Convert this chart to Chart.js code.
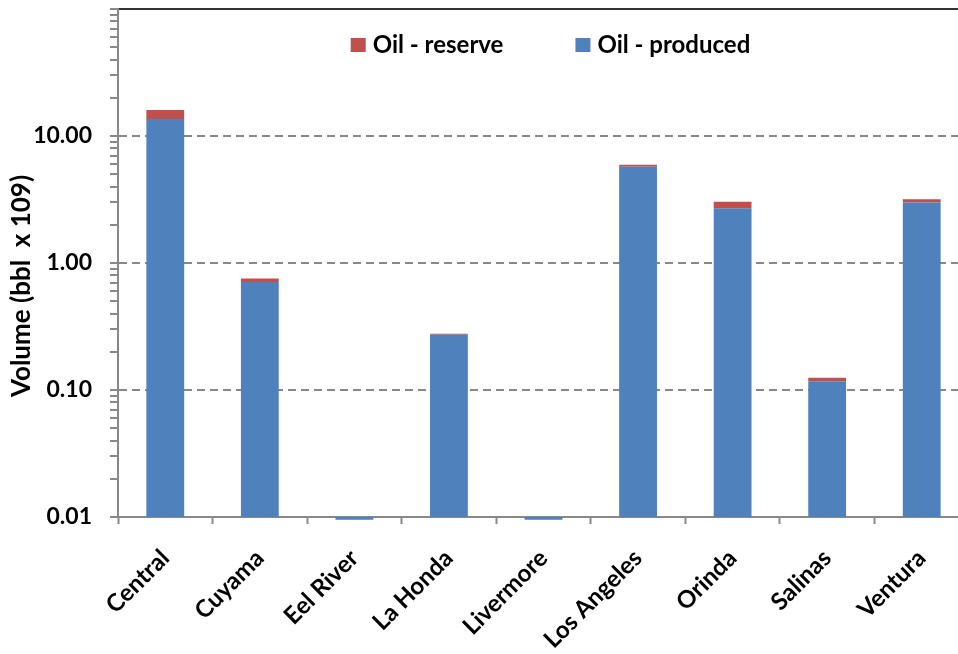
<!DOCTYPE html>
<html>
<head>
<meta charset="utf-8">
<script src="https://cdn.jsdelivr.net/npm/chart.js@4.4.1/dist/chart.umd.min.js"></script>
<style>
  html, body { margin: 0; padding: 0; background: #fff; overflow: hidden; }
  #wrap { width: 980px; height: 654px; }
</style>
</head>
<body>
<div id="wrap"><canvas id="myChart" width="980" height="654"></canvas></div>
<script>
// basins and volumes (bbl x 10^9)
const basins = ['Central', 'Cuyama', 'Eel River', 'La Honda', 'Livermore', 'Los Angeles', 'Orinda', 'Salinas', 'Ventura'];
const oilProduced = [13.6, 0.71, 0.0095, 0.272, 0.0095, 5.72, 2.7, 0.117, 3.0];
const oilReserve = [2.4, 0.045, 0, 0.005, 0, 0.22, 0.34, 0.008, 0.18];

// labelled decades on the log axis, minor ticks at 2..9 of each
const yTickLabels = [0.01, 0.1, 1, 10];
const yMinorSteps = [1, 2, 3, 4, 5, 6, 7, 8, 9];
const yMin = 0.01, yMax = 100;
const yTitle = 'Volume (bbl  x 109)';

const BLUE = '#4F81BD';
const RED = '#C0504D';
const FONT = 'Lato';

// legend sits inside the plot near the top and the axis title sits a bit low,
// so both are drawn by hand
const extras = {
  id: 'extras',
  afterDraw(chart) {
    const { ctx, chartArea } = chart;
    const items = [chart.data.datasets[1], chart.data.datasets[0]];
    ctx.save();
    ctx.font = 'bold 24px ' + FONT;
    const box = 15, gap = 7, spacing = 72;
    const widths = items.map(d => box + gap + ctx.measureText(d.label).width);
    const total = widths[0] + widths[1] + spacing;
    let x = (chartArea.left + chartArea.right) / 2 - total / 2 + 7;
    const y = 45;
    ctx.textBaseline = 'middle';
    ctx.textAlign = 'left';
    items.forEach((d, i) => {
      ctx.fillStyle = d.backgroundColor;
      ctx.fillRect(x, y - 7, box, 14);
      ctx.fillStyle = '#000';
      ctx.fillText(d.label, x + box + gap, y);
      x += widths[i] + spacing;
    });

    ctx.translate(22, 286);
    ctx.rotate(-Math.PI / 2);
    ctx.font = 'bold 26px ' + FONT;
    ctx.textAlign = 'center';
    ctx.fillText(yTitle, 0, 0);
    ctx.restore();
  }
};

function draw() {
  const ctx = document.getElementById('myChart').getContext('2d');
  new Chart(ctx, {
    type: 'bar',
    data: {
      labels: basins,
      datasets: [
        {
          label: 'Oil - produced',
          data: oilProduced,
          backgroundColor: BLUE,
          barPercentage: 0.4,
          categoryPercentage: 1.0,
          clip: false,
        },
        {
          label: 'Oil - reserve',
          data: oilReserve,
          backgroundColor: RED,
          barPercentage: 0.4,
          categoryPercentage: 1.0,
          clip: false,
        },
      ],
    },
    options: {
      responsive: false,
      animation: false,
      devicePixelRatio: 1,
      layout: { padding: { top: 9, right: 11, left: 0, bottom: 0 } },
      plugins: {
        legend: { display: false },
        tooltip: { enabled: false },
      },
      scales: {
        x: {
          stacked: true,
          afterFit: s => { s.height = 137; },
          grid: {
            display: true,
            drawOnChartArea: false,
            offset: true,
            tickLength: 7,
            tickColor: '#888',
            tickWidth: 2,
          },
          border: { color: '#888', width: 2 },
          ticks: {
            autoSkip: false,
            minRotation: 45,
            maxRotation: 45,
            padding: 20,
            color: '#000',
            font: { family: FONT, weight: 'bold', size: 24 },
          },
        },
        xTop: {
          type: 'category',
          position: 'top',
          afterFit: s => { s.height = 0; },
          grid: { display: false },
          ticks: { display: false },
          border: { color: '#333', width: 2 },
        },
        y: {
          type: 'logarithmic',
          stacked: true,
          min: yMin,
          max: yMax,
          afterFit: s => {
            s.width = 118;
            s.paddingTop = 0;
            s.paddingBottom = 0;
          },
          afterBuildTicks: s => {
            const ticks = [];
            yTickLabels.forEach(d => {
              yMinorSteps.forEach(m => ticks.push({ value: +(d * m).toPrecision(3) }));
            });
            ticks.push({ value: yMax });
            s.ticks = ticks;
          },
          ticks: {
            autoSkip: false,
            padding: 18,
            color: '#000',
            font: { family: FONT, weight: 'bold', size: 23 },
            callback: v => yTickLabels.includes(v) ? v.toFixed(2) : '',
          },
          grid: {
            color: c => (c.tick && c.tick.value > yMin && yTickLabels.includes(c.tick.value)) ? '#888' : 'rgba(0,0,0,0)',
            lineWidth: 2,
            tickColor: '#888',
            tickLength: 8,
            tickWidth: 2,
          },
          border: { color: '#888', width: 2, dash: [8, 5] },
        },
      },
    },
    plugins: [extras],
  });
}

document.fonts.load('bold 21px ' + FONT).then(draw, draw);
</script>
</body>
</html>
